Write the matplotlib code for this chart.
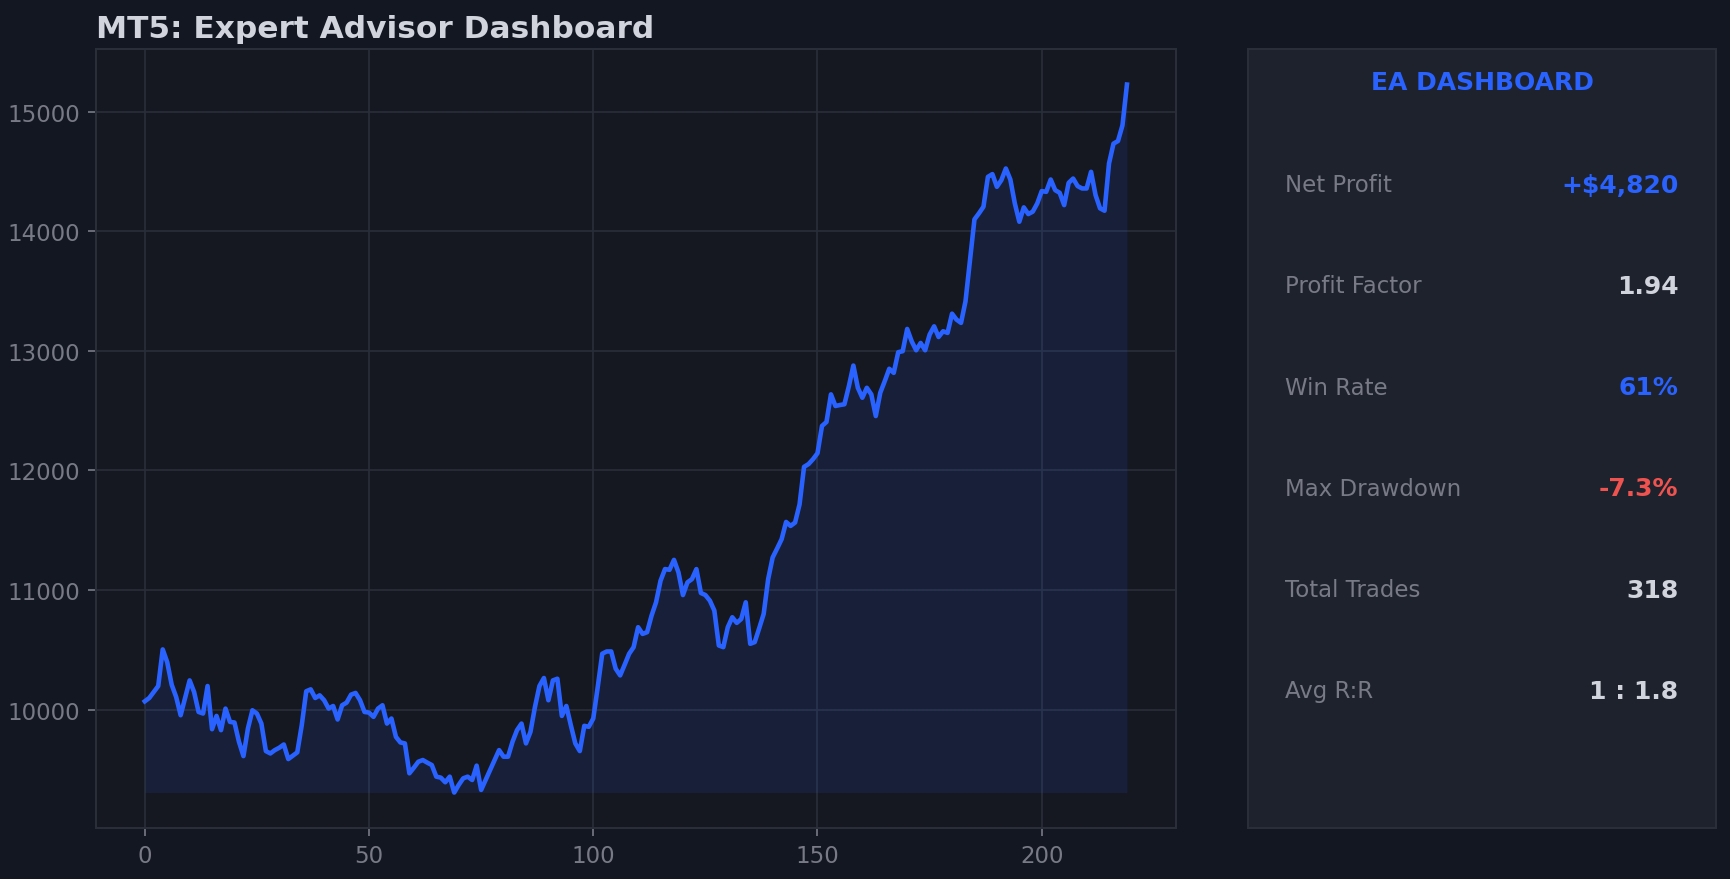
import numpy as np
import matplotlib
matplotlib.use("Agg")
import matplotlib.pyplot as plt

# equity curve, one value per trade index 0..219
equity = [
    10069, 10097, 10147, 10197, 10503, 10397, 10208, 10105, 9953, 10097,
    10244, 10147, 9980, 9967, 10197, 9836, 9947, 9828, 10008, 9897,
    9892, 9731, 9611, 9842, 9994, 9967, 9883, 9653, 9633, 9661,
    9681, 9708, 9586, 9614, 9642, 9869, 10153, 10169, 10097, 10119,
    10078, 10008, 10030, 9917, 10036, 10058, 10125, 10139, 10078, 9980,
    9975, 9939, 10008, 10036, 9883, 9925, 9772, 9725, 9717, 9467,
    9514, 9564, 9578, 9556, 9536, 9439, 9431, 9392, 9439, 9306,
    9370, 9425, 9439, 9411, 9531, 9328, 9411, 9494, 9578, 9661,
    9606, 9606, 9731, 9828, 9883, 9717, 9814, 10022, 10197, 10264,
    10078, 10244, 10258, 9947, 10030, 9869, 9717, 9653, 9864, 9856,
    9925, 10189, 10467, 10486, 10486, 10342, 10286, 10375, 10467, 10522,
    10689, 10633, 10647, 10786, 10897, 11077, 11175, 11169, 11252, 11147,
    10958, 11064, 11091, 11175, 10975, 10958, 10911, 10828, 10536, 10522,
    10689, 10772, 10725, 10758, 10897, 10550, 10564, 10680, 10800, 11091,
    11272, 11347, 11425, 11569, 11536, 11564, 11716, 12030, 12053, 12094,
    12144, 12372, 12405, 12636, 12539, 12547, 12553, 12705, 12877, 12691,
    12608, 12691, 12636, 12455, 12650, 12747, 12850, 12816, 12989, 12997,
    13183, 13080, 13005, 13066, 13005, 13136, 13205, 13116, 13164, 13150,
    13311, 13261, 13234, 13414, 13761, 14100, 14150, 14205, 14455, 14478,
    14372, 14428, 14525, 14433, 14233, 14080, 14200, 14144, 14164, 14233,
    14336, 14330, 14433, 14344, 14322, 14219, 14405, 14441, 14378, 14358,
    14358, 14497, 14303, 14192, 14172, 14567, 14733, 14755, 14886, 15227,
]

stat_labels = ["Net Profit", "Profit Factor", "Win Rate", "Max Drawdown", "Total Trades", "Avg R:R"]
stat_values = ["+$4,820", "1.94", "61%", "-7.3%", "318", "1 : 1.8"]
stat_colors = ["#2962ff", "#d1d4dc", "#2962ff", "#ef5350", "#d1d4dc", "#d1d4dc"]

BG = "#131722"
AX_BG = "#151820"
PANEL = "#1e222d"
GRID = "#2a2e39"
MUTED = "#787b86"
TEXT = "#d1d4dc"
BLUE = "#2962ff"

x = np.arange(len(equity))
y = np.array(equity)

fig = plt.figure(figsize=(1730 / 150, 880 / 150), dpi=150, facecolor=BG)
ax = fig.add_axes([0.0553, 0.058, 0.6245, 0.885])
ax.set_facecolor(AX_BG)

ax.plot(x, y, color=BLUE, lw=2.2)
ax.fill_between(x, y, y.min(), color=BLUE, alpha=0.11, lw=0)

ax.grid(True, color=GRID, lw=0.8)
ax.set_axisbelow(True)
for s in ax.spines.values():
    s.set_color(GRID)
    s.set_linewidth(1.0)
ax.tick_params(colors=MUTED, labelsize=11, length=4)
ax.set_xticks([0, 50, 100, 150, 200])
ax.set_title("MT5: Expert Advisor Dashboard", loc="left", color=TEXT,
             fontsize=15, fontweight="bold")

# stats panel
pan = fig.add_axes([0.7214, 0.058, 0.2705, 0.885])
pan.set_facecolor(PANEL)
pan.set_xticks([])
pan.set_yticks([])
for s in pan.spines.values():
    s.set_color(GRID)
    s.set_linewidth(1.0)
pan.set_xlim(0, 1)
pan.set_ylim(0, 1)

pan.text(0.5, 0.958, "EA DASHBOARD", color=BLUE, fontsize=12,
         fontweight="bold", ha="center", va="center")
for i, (lab, val, col) in enumerate(zip(stat_labels, stat_values, stat_colors)):
    yy = 0.826 - 0.13 * i
    pan.text(0.08, yy, lab, color=MUTED, fontsize=11, ha="left", va="center")
    pan.text(0.92, yy, val, color=col, fontsize=12, fontweight="bold",
             ha="right", va="center")

fig.savefig("out.png", dpi=150, facecolor=BG)
